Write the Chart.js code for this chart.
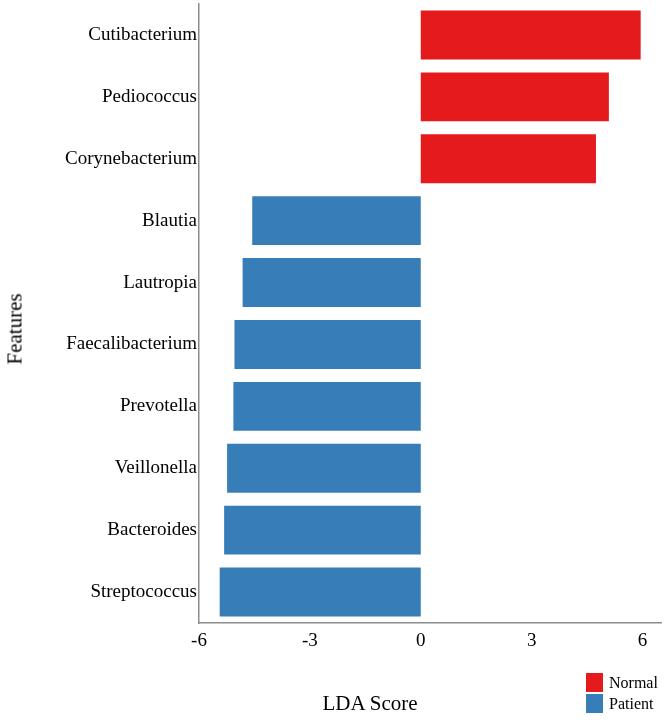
<!DOCTYPE html>
<html>
<head>
<meta charset="utf-8">
<script src="https://cdn.jsdelivr.net/npm/chart.js@4/dist/chart.umd.min.js"></script>
<style>
  html, body { margin: 0; padding: 0; background: #fff; }
  #wrap { position: relative; width: 670px; height: 722px; font-family: "Liberation Serif", "DejaVu Serif", serif; color: #000; }
  #chart { position: absolute; left: 0; top: 0; }
  .ytitle { position: absolute; left: 15px; top: 329px; font-size: 21px; transform: translate(-50%, -50%) rotate(-90deg); white-space: nowrap; }
  .xtitle { position: absolute; left: 370px; top: 703px; font-size: 21px; transform: translate(-50%, -50%); white-space: nowrap; }
  .legend { position: absolute; left: 586px; top: 672px; font-size: 16px; }
  .legend div { height: 21px; display: flex; align-items: center; }
  .legend span.sw { display: inline-block; width: 17px; height: 19px; margin-right: 6px; }
</style>
</head>
<body>
<div id="wrap">
  <canvas id="chart" width="670" height="722"></canvas>
  <div class="ytitle">Features</div>
  <div class="xtitle">LDA Score</div>
  <div class="legend" id="legend"></div>
</div>
<script>
/* LDA effect sizes, Normal vs Patient */

const features = [
  'Cutibacterium', 'Pediococcus', 'Corynebacterium', 'Blautia', 'Lautropia',
  'Faecalibacterium', 'Prevotella', 'Veillonella', 'Bacteroides', 'Streptococcus',
];
const normalScores  = [5.95, 5.09, 4.74, null, null, null, null, null, null, null];
const patientScores = [null, null, null, -4.56, -4.82, -5.04, -5.07, -5.24, -5.32, -5.44];
const xTicks = [-6, -3, 0, 3, 6];

const groups = [
  { label: 'Normal', color: '#E41A1C' },
  { label: 'Patient', color: '#377EB8' },
];

const serif = '"Liberation Serif", "DejaVu Serif", serif';

new Chart(document.getElementById('chart'), {
  type: 'bar',
  data: {
    labels: features,
    datasets: [
      { label: groups[0].label, data: normalScores, backgroundColor: groups[0].color },
      { label: groups[1].label, data: patientScores, backgroundColor: groups[1].color },
    ],
  },
  options: {
    indexAxis: 'y',
    responsive: false,
    animation: false,
    layout: { padding: { top: 4, right: 9, left: 0, bottom: 0 } },
    datasets: { bar: { grouped: false, skipNull: true, barPercentage: 0.79, categoryPercentage: 1 } },
    plugins: { legend: { display: false }, tooltip: { enabled: false } },
    scales: {
      x: {
        min: -6,
        max: 6.5,
        afterBuildTicks: axis => { axis.ticks = xTicks.map(v => ({ value: v })); },
        afterFit: axis => { axis.height = 99; },
        grid: { display: false, drawTicks: false },
        border: { display: true, color: '#8c8c8c', width: 1.5 },
        ticks: { color: '#000', padding: 7, font: { family: serif, size: 19 } },
      },
      y: {
        // labels sit in band centres, so no extra room is needed above/below
        afterFit: axis => { axis.width = 199; axis.paddingTop = 0; axis.paddingBottom = 0; },
        grid: { display: false, drawTicks: false },
        border: { display: true, color: '#8c8c8c', width: 1.5 },
        ticks: { color: '#000', padding: 2, font: { family: serif, size: 19 } },
      },
    },
  },
});

document.getElementById('legend').innerHTML = groups.map(g =>
  `<div><span class="sw" style="background:${g.color}"></span>${g.label}</div>`
).join('');
</script>
</body>
</html>
